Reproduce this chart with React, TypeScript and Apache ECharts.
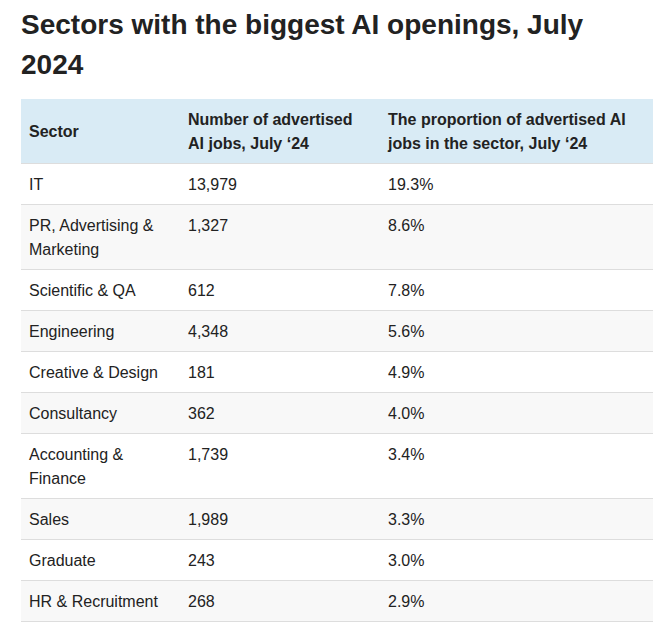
import React, { useEffect, useRef } from "react";
import * as echarts from "echarts";

const titleLines = ["Sectors with the biggest AI openings, July", "2024"];
const headers = [
  "Sector",
  "Number of advertised\nAI jobs, July \u201824",
  "The proportion of advertised AI\njobs in the sector, July \u201824",
];
const sectors = [
  "IT",
  "PR, Advertising &\nMarketing",
  "Scientific & QA",
  "Engineering",
  "Creative & Design",
  "Consultancy",
  "Accounting &\nFinance",
  "Sales",
  "Graduate",
  "HR & Recruitment",
];
const jobs = [13979, 1327, 612, 4348, 181, 362, 1739, 1989, 243, 268];
const shares = [19.3, 8.6, 7.8, 5.6, 4.9, 4.0, 3.4, 3.3, 3.0, 2.9];

const FONT = "'Liberation Sans', Arial, Helvetica, sans-serif";

export default function App() {
  const ref = useRef<HTMLDivElement>(null);
  useEffect(() => {
    if (!ref.current) return;
    const chart = echarts.init(ref.current, undefined, { renderer: "svg" });
    const left = 21;
    const right = 653;
    const colX = [29, 188, 388];
    const els: any[] = [];
    const txt = (text: string, x: number, y: number, size: number, weight: string, va: string, lh: number) => ({
      type: "text",
      x,
      y,
      silent: true,
      style: {
        text,
        fill: "#222222",
        fontSize: size,
        fontWeight: weight,
        fontFamily: FONT,
        lineHeight: lh,
        align: "left",
        verticalAlign: va,
      },
    });
    // title
    titleLines.forEach((t, i) => {
      els.push(txt(t, left, 24 + i * 40, 28, "bold", "middle", 40));
    });
    // header
    const headTop = 99;
    const headH = 65;
    els.push({
      type: "rect",
      shape: { x: left, y: headTop, width: right - left, height: headH },
      style: { fill: "#d9ebf5" },
      silent: true,
    });
    headers.forEach((h, i) => {
      els.push(txt(h, colX[i], headTop + (headH - 1) / 2, 16, "bold", "middle", 24));
    });
    els.push({
      type: "rect",
      shape: { x: left, y: headTop + headH - 1, width: right - left, height: 1 },
      style: { fill: "#dddddd" },
      silent: true,
    });
    // rows
    let y = headTop + headH;
    sectors.forEach((s, i) => {
      const lines = s.split("\n").length;
      const h = 17 + 24 * lines;
      els.push({
        type: "rect",
        shape: { x: left, y, width: right - left, height: h },
        style: { fill: i % 2 === 0 ? "#ffffff" : "#f8f8f8" },
        silent: true,
      });
      els.push({
        type: "rect",
        shape: { x: left, y: y + h - 1, width: right - left, height: 1 },
        style: { fill: "#dddddd" },
        silent: true,
      });
      const cells = [s, jobs[i].toLocaleString("en-US"), shares[i].toFixed(1) + "%"];
      cells.forEach((c, j) => {
        els.push(txt(c, colX[j], y + 8, 16, "normal", "top", 24));
      });
      y += h;
    });
    chart.setOption({
      animation: false,
      backgroundColor: "#ffffff",
      graphic: { elements: els },
    });
    return () => chart.dispose();
  }, []);
  return (
    <div
      ref={ref}
      style={{ position: "fixed", left: 0, top: 0, width: 671, height: 624 }}
    />
  );
}
